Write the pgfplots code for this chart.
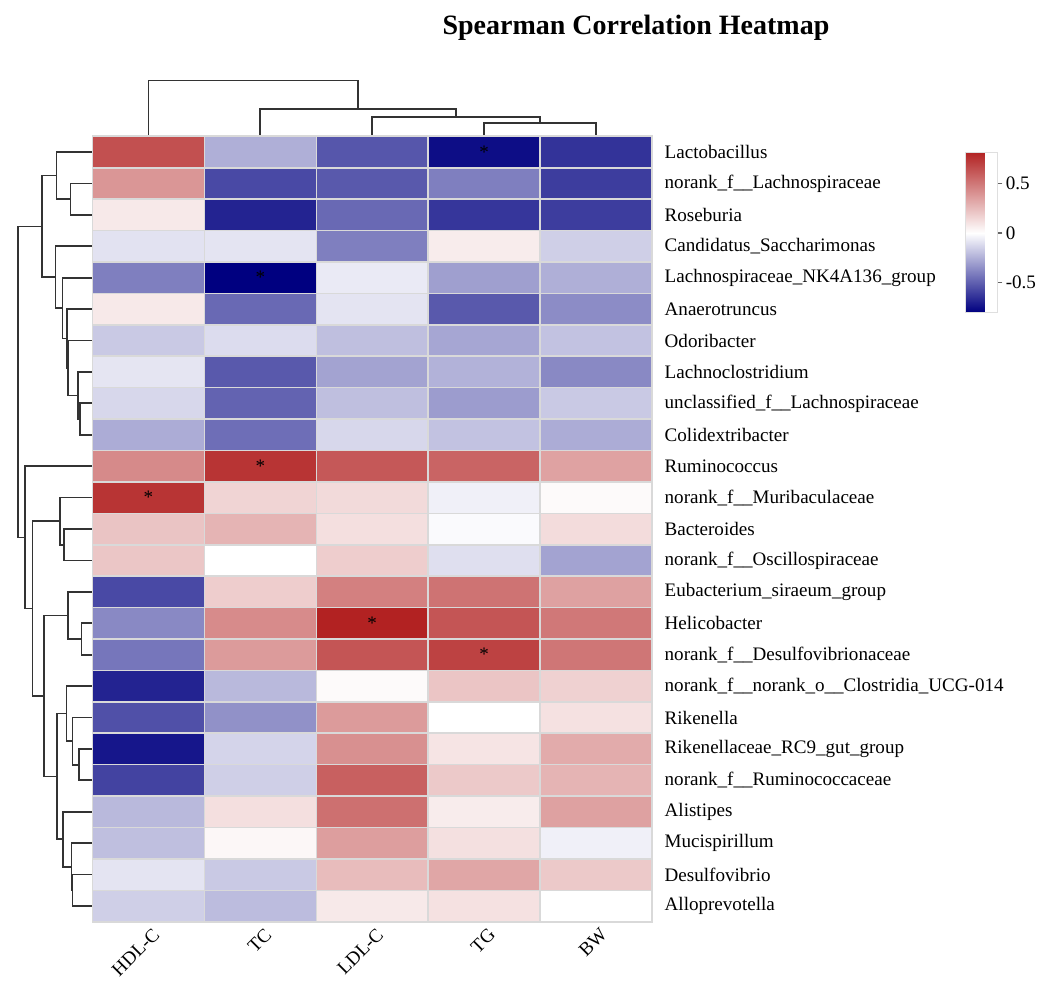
\documentclass[border=0pt]{standalone}
\usepackage{fontspec}
\setmainfont{Liberation Serif}
\usepackage{pgfplots}
\usepackage{pgfplotstable}
\pgfplotsset{compat=1.18}
\newcommand{\lab}{\fontsize{14.3}{17}\selectfont}
\pgfplotstableread{
x y v
0 0 -0.15
1 0 -0.21
2 0 0.08
3 0 0.11
4 0 0.0
0 1 -0.085
1 1 -0.17
2 1 0.25
3 1 0.33
4 1 0.20
0 2 -0.20
1 2 0.03
2 2 0.36
3 2 0.115
4 2 -0.047
0 3 -0.22
1 3 0.12
2 3 0.53
3 3 0.07
4 3 0.35
0 4 -0.59
1 4 -0.15
2 4 0.59
3 4 0.20
4 4 0.28
0 5 -0.73
1 5 -0.135
2 5 0.41
3 5 0.10
4 5 0.31
0 6 -0.55
1 6 -0.345
2 6 0.37
3 6 0.0
4 6 0.11
0 7 -0.69
1 7 -0.22
2 7 0.02
3 7 0.215
4 7 0.17
0 8 -0.43
1 8 0.37
2 8 0.63
3 8 0.70
4 8 0.51
0 9 -0.37
1 9 0.43
2 9 0.82
3 9 0.63
4 9 0.50
0 10 -0.57
1 10 0.185
2 10 0.47
3 10 0.52
4 10 0.35
0 11 0.21
1 11 0.0
2 11 0.185
3 11 -0.10
4 11 -0.29
0 12 0.22
1 12 0.28
2 12 0.12
3 12 -0.015
4 12 0.13
0 13 0.753
1 13 0.16
2 13 0.137
3 13 -0.047
4 13 0.02
0 14 0.434
1 14 0.753
2 14 0.62
3 14 0.575
4 14 0.345
0 15 -0.26
1 15 -0.455
2 15 -0.125
3 15 -0.19
4 15 -0.26
0 16 -0.125
1 16 -0.49
2 16 -0.20
3 16 -0.31
4 16 -0.17
0 17 -0.08
1 17 -0.52
2 17 -0.29
3 17 -0.24
4 17 -0.37
0 18 -0.17
1 18 -0.11
2 18 -0.20
3 18 -0.28
4 18 -0.19
0 19 0.08
1 19 -0.47
2 19 -0.085
3 19 -0.52
4 19 -0.36
0 20 -0.40
1 20 -0.80
2 20 -0.066
3 20 -0.30
4 20 -0.25
0 21 -0.09
1 21 -0.085
2 21 -0.40
3 21 0.07
4 21 -0.15
0 22 0.08
1 22 -0.69
2 22 -0.47
3 22 -0.63
4 22 -0.61
0 23 0.39
1 23 -0.57
2 23 -0.52
3 23 -0.40
4 23 -0.61
0 24 0.65
1 24 -0.25
2 24 -0.53
3 24 -0.76
4 24 -0.64
}\heat
\begin{document}
\begin{tikzpicture}
\pgfplotsset{dendro/.style={draw=black!80, line width=1.3pt, mark=none, line join=miter}}
\begin{axis}[
  name=main,
  scale only axis, width=419.6pt, height=589.05pt,
  xmin=-0.5, xmax=4.5, ymin=-0.5, ymax=24.5,
  clip=false,
  axis on top,
  axis line style={draw=gray!30, line width=1.2pt},
  xtick={0,...,4}, xticklabels={HDL-C,TC,LDL-C,TG,BW},
  xticklabel style={rotate=45, anchor=north east, font=\lab, inner sep=1pt, yshift=-3.5pt, xshift=0pt},
  ytick={0,...,24},
  yticklabels={Alloprevotella,Desulfovibrio,Mucispirillum,Alistipes,norank\_f\_\_Ruminococcaceae,Rikenellaceae\_RC9\_gut\_group,Rikenella,norank\_f\_\_norank\_o\_\_Clostridia\_UCG-014,norank\_f\_\_Desulfovibrionaceae,Helicobacter,Eubacterium\_siraeum\_group,norank\_f\_\_Oscillospiraceae,Bacteroides,norank\_f\_\_Muribaculaceae,Ruminococcus,Colidextribacter,unclassified\_f\_\_Lachnospiraceae,Lachnoclostridium,Odoribacter,Anaerotruncus,Lachnospiraceae\_NK4A136\_group,Candidatus\_Saccharimonas,Roseburia,norank\_f\_\_Lachnospiraceae,Lactobacillus},
  yticklabel pos=right,
  yticklabel style={font=\lab, anchor=west, xshift=6pt},
  major tick length=0pt, minor tick length=0pt,
  minor xtick={-0.5,0.5,...,4.5}, minor ytick={-0.5,0.5,...,24.5},
  minor grid style={draw=gray!30, line width=1.2pt},
  xminorgrids=true, yminorgrids=true,
  colormap={rb}{rgb255(0pt)=(0,0,128) rgb255(80pt)=(255,255,255) rgb255(162pt)=(178,34,34)},
  point meta min=-0.8, point meta max=0.82,
  title={Spearman Correlation Heatmap},
  title style={at={(0.9714,1.119)}, anchor=base, font=\bfseries\fontsize{21}{25}\selectfont},
  colorbar,
  colorbar style={
    name=cbar,
    title={},
    at={(main.north east)}, anchor=north west, xshift=226.5pt, yshift=-11.8pt,
    scale only axis, width=24pt, height=120pt,
    xtick=\empty, minor xtick={}, minor ytick={},
    xminorgrids=false, yminorgrids=false,
    ytick={-0.5,0,0.5}, yticklabels={-0.5,0,0.5},
    ytick pos=right, yticklabel pos=right,
    yticklabel style={font=\lab, anchor=west, xshift=-1pt, yshift=0pt, rotate=0},
    axis line style={draw=gray!25, line width=0.6pt},
    major tick length=3.75pt, tick align=outside,
    major tick style={draw=black!60, line width=1pt},
  },
]
\addplot[matrix plot*, mesh/cols=5, point meta=explicit] table[x=x, y=y, meta=v] {\heat};

\addplot[draw=none, mark=none, nodes near coords={*},
  every node near coord/.append style={anchor=center, font=\lab, text=black}]
  coordinates {(3,24) (1,20) (1,14) (0,13) (2,9) (3,8)};

% top dendrogram
\addplot[dendro] coordinates {(3,24.5) (3,24.92) (4,24.92) (4,24.5)};
\addplot[dendro] coordinates {(2,24.5) (2,25.11) (3.5,25.11) (3.5,24.92)};
\addplot[dendro] coordinates {(1,24.5) (1,25.37) (2.75,25.37) (2.75,25.11)};
\addplot[dendro] coordinates {(0,24.5) (0,26.28) (1.875,26.28) (1.875,25.37)};

% left dendrogram
\addplot[dendro] coordinates {(-0.5,23) (-0.696,23) (-0.696,22) (-0.5,22)};
\addplot[dendro] coordinates {(-0.5,24) (-0.821,24) (-0.821,22.5) (-0.696,22.5)};
\addplot[dendro] coordinates {(-0.5,16) (-0.613,16) (-0.613,15) (-0.5,15)};
\addplot[dendro] coordinates {(-0.5,17) (-0.628,17) (-0.628,15.5) (-0.613,15.5)};
\addplot[dendro] coordinates {(-0.5,18) (-0.717,18) (-0.717,16.25) (-0.628,16.25)};
\addplot[dendro] coordinates {(-0.5,19) (-0.726,19) (-0.726,17.125) (-0.717,17.125)};
\addplot[dendro] coordinates {(-0.5,20) (-0.768,20) (-0.768,18.0625) (-0.726,18.0625)};
\addplot[dendro] coordinates {(-0.5,21) (-0.830,21) (-0.830,19.031) (-0.768,19.031)};
\addplot[dendro] coordinates {(-0.821,23.25) (-0.949,23.25) (-0.949,20.016) (-0.830,20.016)};
\addplot[dendro] coordinates {(-0.5,12) (-0.753,12) (-0.753,11) (-0.5,11)};
\addplot[dendro] coordinates {(-0.5,13) (-0.792,13) (-0.792,11.5) (-0.753,11.5)};
\addplot[dendro] coordinates {(-0.5,9) (-0.598,9) (-0.598,8) (-0.5,8)};
\addplot[dendro] coordinates {(-0.5,10) (-0.717,10) (-0.717,8.5) (-0.598,8.5)};
\addplot[dendro] coordinates {(-0.5,5) (-0.622,5) (-0.622,4) (-0.5,4)};
\addplot[dendro] coordinates {(-0.5,6) (-0.679,6) (-0.679,4.5) (-0.622,4.5)};
\addplot[dendro] coordinates {(-0.5,7) (-0.732,7) (-0.732,5.25) (-0.679,5.25)};
\addplot[dendro] coordinates {(-0.5,1) (-0.679,1) (-0.679,0) (-0.5,0)};
\addplot[dendro] coordinates {(-0.5,2) (-0.6875,2) (-0.6875,0.5) (-0.679,0.5)};
\addplot[dendro] coordinates {(-0.5,3) (-0.762,3) (-0.762,1.25) (-0.6875,1.25)};
\addplot[dendro] coordinates {(-0.732,6.125) (-0.815,6.125) (-0.815,2.125) (-0.762,2.125)};
\addplot[dendro] coordinates {(-0.717,9.25) (-0.932,9.25) (-0.932,4.125) (-0.815,4.125)};
\addplot[dendro] coordinates {(-0.792,12.25) (-1.036,12.25) (-1.036,6.6875) (-0.932,6.6875)};
\addplot[dendro] coordinates {(-0.5,14) (-1.104,14) (-1.104,9.469) (-1.036,9.469)};
\addplot[dendro] coordinates {(-0.949,21.633) (-1.164,21.633) (-1.164,11.734) (-1.104,11.734)};
\end{axis}
\pgfresetboundingbox
\path ([xshift=-69.375pt,yshift=-43.725pt]main.south west) rectangle ([xshift=299.25pt,yshift=102.225pt]main.north east);
\end{tikzpicture}
\end{document}
